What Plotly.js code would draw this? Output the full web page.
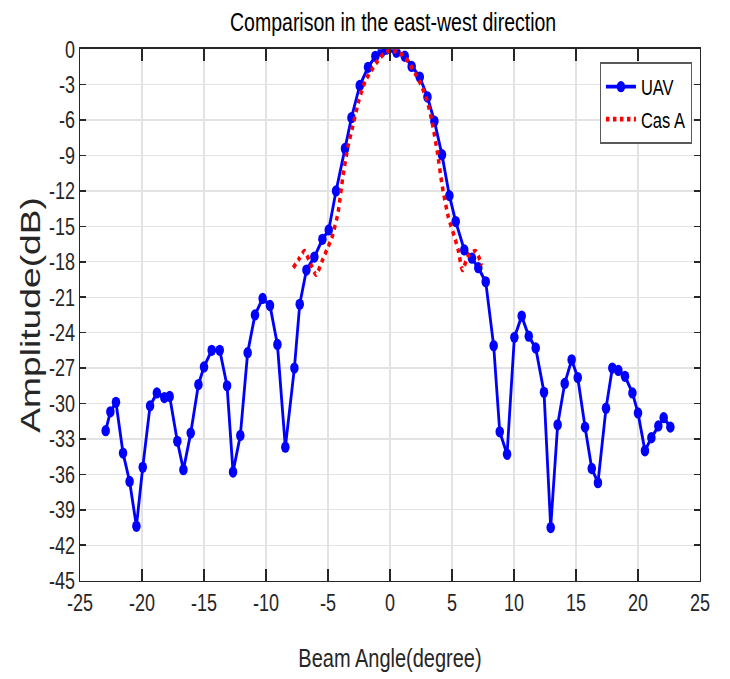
<!DOCTYPE html>
<html>
<head>
<meta charset="utf-8">
<script src="https://cdn.plot.ly/plotly-3.0.1.min.js"></script>
<style>
  html, body { margin: 0; padding: 0; background: #fff; }
  #wrap { width: 730px; height: 679px; overflow: hidden; position: relative; }
  #plot { width: 730px; height: 511px; transform: scaleY(1.3288); transform-origin: 0 0; }
</style>
</head>
<body>
<div id="wrap"><div id="plot"></div></div>
<script>
// UAV measurement
const uavAngle = [-22.93, -22.55, -22.10, -21.53, -21.00, -20.45, -19.94, -19.35, -18.80, -18.20,
  -17.77, -17.15, -16.66, -16.07, -15.45, -15.00, -14.38, -13.73, -13.14, -12.66,
  -12.07, -11.48, -10.89, -10.27, -9.68, -9.08, -8.44, -7.71, -7.28, -6.74,
  -6.10, -5.45, -4.94, -4.35, -3.63, -3.11, -2.44, -1.77, -1.18, -0.67,
  -0.29, 0.52, 1.19, 1.75, 2.40, 3.02, 3.58, 4.19, 4.79, 5.30,
  5.99, 6.61, 7.12, 7.72, 8.36, 8.85, 9.44, 10.03, 10.62, 11.19,
  11.75, 12.42, 12.96, 13.52, 14.09, 14.65, 15.14, 15.73, 16.27, 16.77,
  17.42, 17.93, 18.42, 18.95, 19.55, 20.00, 20.56, 21.08, 21.64, 22.07, 22.61];
const uavAmp = [-32.3, -30.7, -29.9, -34.2, -36.6, -40.4, -35.4, -30.2, -29.1, -29.5,
  -29.4, -33.2, -35.6, -32.5, -28.4, -26.9, -25.5, -25.5, -28.5, -35.8,
  -32.7, -25.7, -22.5, -21.1, -21.7, -25.0, -33.7, -27.0, -21.6, -18.7,
  -17.6, -16.1, -15.3, -12.0, -8.4, -5.8, -3.07, -1.54, -0.61, -0.19,
  0.0, -0.27, -0.6, -1.46, -2.36, -4.05, -6.1, -8.94, -12.4, -14.6,
  -17.0, -17.7, -18.5, -19.7, -25.1, -32.4, -34.3, -24.4, -22.6, -24.3,
  -25.3, -29.05, -40.5, -31.8, -28.3, -26.3, -27.8, -32.0, -35.5, -36.7,
  -30.4, -27.0, -27.2, -27.7, -29.1, -30.8, -34.0, -32.9, -31.9, -31.2, -32.0];

// Cas A reference pattern
const casAngle = [-7.8, -7.3, -6.9, -6.4, -5.95, -5.5, -5.1, -4.7, -4.2, -3.8,
  -3.4, -3.0, -2.5, -2.0, -1.5, -1.0, -0.5, 0.0, 0.5, 1.0,
  1.5, 2.0, 2.5, 3.0, 3.4, 3.8, 4.2, 4.7, 5.2, 5.5,
  5.85, 6.3, 6.9, 7.4];
const casAmp = [-18.5, -17.7, -17.1, -18.2, -19.1, -18.0, -17.0, -16.0, -13.9, -10.8,
  -8.3, -6.5, -4.3, -2.7, -1.8, -1.0, -0.4, -0.1, -0.2, -0.5,
  -1.1, -2.0, -3.0, -4.4, -6.2, -8.6, -11.5, -14.2, -15.9, -17.0,
  -18.7, -17.5, -17.1, -18.3];

const xTicks = [-25, -20, -15, -10, -5, 0, 5, 10, 15, 20, 25];
const yTicks = [0, -3, -6, -9, -12, -15, -18, -21, -24, -27, -30, -33, -36, -39, -42, -45];

const FONT = 'Liberation Sans, Arial, sans-serif';
const AX = '#262626';

const traces = [
  {
    x: uavAngle, y: uavAmp, name: 'UAV', type: 'scatter', mode: 'lines+markers',
    line: {color: '#0000ff', width: 2.8},
    marker: {color: '#0000ff', size: 8.5, symbol: 'circle'}
  },
  {
    x: casAngle, y: casAmp, name: 'Cas A', type: 'scatter', mode: 'lines',
    line: {color: '#ff0000', width: 3.5, dash: 'dot', shape: 'spline', smoothing: 0.6}
  }
];

const layout = {
  width: 730, height: 511,
  margin: {l: 80, r: 30, t: 37, b: 74},
  paper_bgcolor: '#ffffff', plot_bgcolor: '#ffffff',
  showlegend: true,
  title: {text: 'Comparison in the east-west direction', font: {family: FONT, size: 19.5, color: '#000'},
          x: 0.5385, xanchor: 'center', y: 0.968, yanchor: 'middle'},
  xaxis: {
    range: [-25, 25], tickvals: xTicks, ticktext: xTicks.map(String),
    showgrid: true, gridcolor: '#e3e3e3', gridwidth: 1.2,
    zeroline: false, showline: true, linecolor: AX, linewidth: 1.3, mirror: 'ticks',
    ticks: 'inside', ticklen: 9, tickwidth: 1.2, tickcolor: AX,
    tickfont: {family: FONT, size: 18, color: AX},
    title: {text: 'Beam Angle(degree)', font: {family: FONT, size: 20, color: AX}, standoff: 25}
  },
  yaxis: {
    range: [-45, 0], tickvals: yTicks, ticktext: yTicks.map(String),
    showgrid: true, gridcolor: '#e3e3e3', gridwidth: 1.0,
    zeroline: false, showline: true, linecolor: AX, linewidth: 1.3, mirror: 'ticks',
    ticks: 'inside', ticklen: 6, tickwidth: 1.2, tickcolor: AX,
    tickfont: {family: FONT, size: 18, color: AX},
    title: {text: 'Amplitude(dB)', font: {family: FONT, size: 28, color: AX}, standoff: 0}
  },
  legend: {
    x: 0.987, xanchor: 'right', y: 0.975, yanchor: 'top',
    bgcolor: '#ffffff', bordercolor: '#5a5a5a', borderwidth: 1,
    font: {family: FONT, size: 16.5, color: '#000'},
    itemwidth: 30, tracegroupgap: 0
  }
};

Plotly.newPlot('plot', traces, layout, {displayModeBar: false, staticPlot: true});
</script>
</body>
</html>
